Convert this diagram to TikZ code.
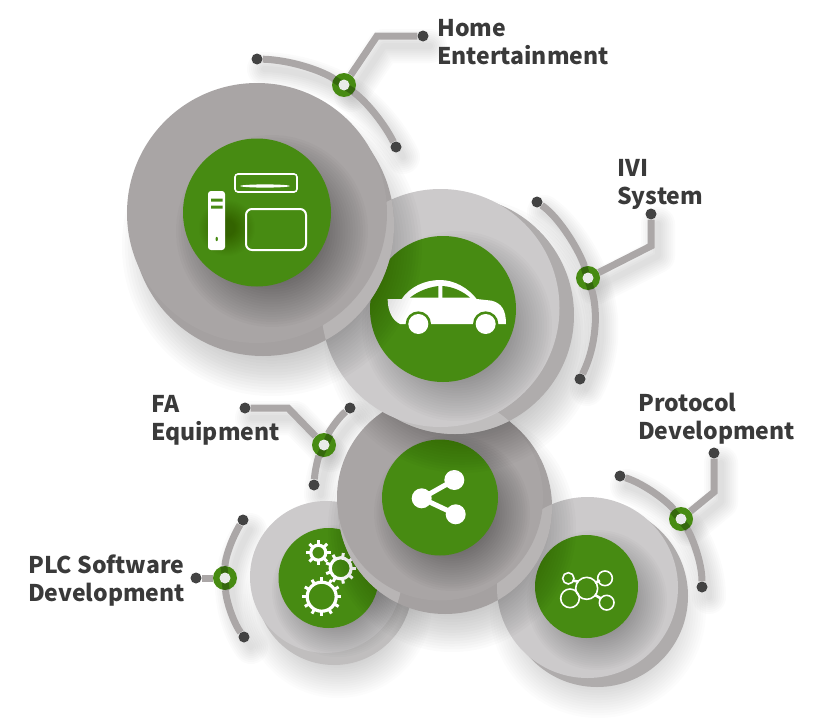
\documentclass[tikz,border=0pt]{standalone}
\usepackage{fontspec}
\setmainfont{Noto Sans}
\newfontfamily\labelfont{Noto Sans CJK SC}

\definecolor{leafgreen}{HTML}{478B12}
\definecolor{stonegray}{HTML}{A9A5A5}
\definecolor{stoneedge}{HTML}{A5A1A1}
\definecolor{stoneband}{HTML}{B8B5B5}
\definecolor{palegray}{HTML}{CCCACB}
\definecolor{paleedge}{HTML}{AFACAC}
\definecolor{paleband}{HTML}{C0BEBE}
\definecolor{armgray}{HTML}{ABA7A7}
\definecolor{dotgray}{HTML}{434343}
\definecolor{holegray}{HTML}{E9EBE9}
\definecolor{labelgray}{HTML}{3A3A3A}

\tikzset{
  greendisc/.style={fill=leafgreen},
  armline/.style={draw=armgray, line width=7pt},
  dotnode/.style={circle, fill=dotgray, inner sep=0pt, minimum size=11pt},
  ringnode/.style={circle, fill=leafgreen, inner sep=0pt, minimum size=24pt},
  holenode/.style={circle, fill=holegray, inner sep=0pt, minimum size=11pt},
  ringband/.style={draw=black, opacity=0.25, line width=7pt},
  iconline/.style={draw=white, line width=1.6pt},
  labelnode/.style={anchor=north west, inner sep=0pt, align=left, text=labelgray,
    font=\labelfont\bfseries\fontsize{23}{28}\selectfont},
}

% blurred stroke under the arms
\newcommand{\softstroke}[1]{%
  \foreach \w in {6,10,...,34}{
    \draw[line width=\w pt, black, opacity=0.014, line cap=round, line join=round, shift={(7,10)}] #1;
  }%
}
% blurred disc: centre x, centre y, radius, spread, step opacity
\newcommand{\softdisc}[5]{%
  \foreach \t in {0,...,19}{
    \fill[black, opacity=#5] (#1,#2) circle ({#3+#4*(\t/9.5-1)});
  }%
}
% gear: centre x, centre y, ring radius, tooth count
\newcommand{\gearicon}[4]{%
  \draw[iconline, line width=3.2pt] (#1,#2) circle (#3);
  \foreach \k in {1,...,#4}{
    \draw[white, line width=3pt] (#1,#2) ++({\k*360/#4}:#3 pt) -- ++({\k*360/#4}:5pt);
  }%
}

\begin{document}
\begin{tikzpicture}[x=1pt, y=-1pt]
        \useasboundingbox (0,0) rectangle (825,720);

        % ==========================================
        % Arm shadows
        % ==========================================
        \softstroke{(257,59) .. controls (290,60) and (320,70) .. (344,85) .. controls (368,103) and (385,125) .. (396,147)}
        \softstroke{(344,85) -- (377,36) -- (423,36)}
        \softstroke{(537,202) .. controls (560,218) and (580,252) .. (588,278) .. controls (598,310) and (597,345) .. (580,379)}
        \softstroke{(588,278) -- (651,246) -- (651,214)}
        \softstroke{(350,408) .. controls (338,418) and (329,432) .. (324,445) .. controls (318,458) and (315,470) .. (314,485)}
        \softstroke{(245,408) -- (288,408) -- (324,445)}
        \softstroke{(243,520) .. controls (232,538) and (225,558) .. (225,578) .. controls (226,600) and (233,622) .. (244,637)}
        \softstroke{(620,476) .. controls (645,484) and (668,502) .. (681,519) .. controls (692,537) and (702,562) .. (702,587)}
        \softstroke{(681,519) -- (714,492) -- (714,453)}

        % ==========================================
        % Protocol disc
        % ==========================================
        \softdisc{598}{610}{84}{24}{0.012}
        \fill[paleedge] (597,596) circle (91);
        \fill[palegray] (587.5,587.5) circle (90.5);
        \softdisc{597}{600}{50}{20}{0.017}
        \fill[greendisc] (586.5,586.5) circle (51.5);
        % Icono red
        \begin{scope}[shift={(530,430)}, scale=1/3]
          \draw[iconline] (170,475) circle (33);
          \draw[iconline] (115,445) circle (17);
          \draw[iconline] (225,445) circle (22);
          \draw[iconline] (120,505) circle (28);
          \draw[iconline] (230,518) circle (22);
          \draw[white, line width=2.6pt] (130,452) -- (145,455);
          \draw[white, line width=2.6pt] (195,458) -- (210,452);
          \draw[white, line width=2.6pt] (195,495) -- (212,505);
        \end{scope}

        % ==========================================
        % Gears disc
        % ==========================================
        \softdisc{338}{604}{72}{22}{0.012}
        \fill[paleband] (334,587) circle (78);
        \fill[palegray] (326,577) circle (76);
        \softdisc{338}{591}{48}{18}{0.017}
        \fill[greendisc] (328.5,578) circle (50);
        % Icono engranajes
        \gearicon{318.3}{552.7}{7.5}{8}
        \gearicon{340.7}{568.3}{10.5}{9}
        \gearicon{321.7}{596.7}{14.5}{12}

        % ==========================================
        % Share disc
        % ==========================================
        \softdisc{452}{528}{98}{26}{0.017}
        \fill[stoneedge] (445,507) circle (107);
        \begin{scope}
          \clip (326,577) circle (76) (587.5,587.5) circle (90.5);
          \fill[stoneband] (445,507) circle (107);
        \end{scope}
        \fill[stonegray] (440,497.5) circle (103);
        \softdisc{452}{513}{56}{22}{0.018}
        \fill[greendisc] (440,497.5) circle (58);
        % Icono compartir
        \draw[white, line width=5pt] (454.3,480) -- (421.7,498.3) -- (455.7,514.3);
        \fill[white] (454.3,480) circle (10) (421.7,498.3) circle (10) (455.7,514.3) circle (10);

        % ==========================================
        % Car disc
        % ==========================================
        \softdisc{462}{335}{112}{26}{0.016}
        \fill[paleedge] (455,315) circle (119);
        \begin{scope}
          \clip (440,497.5) circle (103);
          \fill[paleband] (455,315) circle (119);
        \end{scope}
        \fill[palegray] (440.5,308) circle (119);
        \softdisc{457}{326}{71}{24}{0.017}
        \fill[greendisc] (443,309) circle (73);
        % Icono auto
        \begin{scope}[shift={(360,230)}, scale=1/3]
          \fill[white] (83,207) -- (125,207) .. controls (150,170) and (195,150) .. (240,150)
            .. controls (285,150) and (325,175) .. (350,207) -- (395,212)
            .. controls (425,220) and (438,240) .. (438,282) -- (120,282)
            .. controls (95,270) and (83,240) .. (83,207) -- cycle;
          \fill[leafgreen] (150,203) .. controls (175,183) and (205,172) .. (235,168) -- (235,203) -- cycle;
          \fill[leafgreen] (247,168) .. controls (280,170) and (310,185) .. (330,203) -- (247,203) -- cycle;
          \fill[leafgreen] (175,282) circle (38) (377,282) circle (38);
          \fill[white] (175,282) circle (30) (377,282) circle (30);
        \end{scope}

        % ==========================================
        % Home disc
        % ==========================================
        \softdisc{272}{246}{122}{28}{0.017}
        \fill[stoneedge] (263,225) circle (131);
        \begin{scope}
          \clip (440.5,308) circle (119);
          \fill[stoneband] (263,225) circle (131);
        \end{scope}
        \fill[stonegray] (257,213) circle (130);
        \softdisc{272}{231}{72}{24}{0.018}
        \fill[greendisc] (257,212.5) circle (74);
        % Icono equipos
        \softdisc{227}{228}{18}{10}{0.012}
        \fill[white, rounded corners=3pt] (208,191) rectangle (225,250);
        \fill[leafgreen] (211,198.5) rectangle (222.5,201.5) (211,205.5) rectangle (222.5,208.5);
        \fill[leafgreen] (216.7,239) ellipse (1.2 and 2.2);
        \draw[iconline, rounded corners=3pt] (235,174) rectangle (297,192);
        \fill[white] (265,186) ellipse (25 and 1.6);
        \draw[iconline, line width=2pt, rounded corners=6pt] (246,209) rectangle (306,250);

        % ==========================================
        % Arms
        % ==========================================
        % Home Entertainment
        \node[dotnode] (homeleft) at (257,59) {};
        \node[dotnode] (homeright) at (396,147) {};
        \node[dotnode] (homeend) at (423,36) {};
        \node[ringnode] (homering) at (344,85) {};
        \coordinate (homecorner) at (377,36);
        \draw[armline] (homeleft) .. controls (290,60) and (320,70) .. (homering);
        \draw[armline] (homering) .. controls (368,103) and (385,125) .. (homeright);
        \draw[armline] (homering) -- (homecorner) -- (homeend);
        \draw[ringband] (homering.150) -- (homering.-35);
        \node[holenode] (homehole) at (homering) {};
        \node[labelnode] (homelabel) at (437,19) {Home\\Entertainment};

        % IVI System
        \node[dotnode] (iviup) at (537,202) {};
        \node[dotnode] (ividown) at (580,379) {};
        \node[dotnode] (iviend) at (651,214) {};
        \node[ringnode] (ivirring) at (588,278) {};
        \coordinate (ivicorner) at (651,246);
        \draw[armline] (iviup) .. controls (560,218) and (580,252) .. (ivirring);
        \draw[armline] (ivirring) .. controls (598,310) and (597,345) .. (ividown);
        \draw[armline] (ivirring) -- (ivicorner) -- (iviend);
        \draw[ringband] (ivirring.110) -- (ivirring.-75);
        \node[holenode] (ivihole) at (ivirring) {};
        \node[labelnode] (ivilabel) at (617,159) {IVI\\System};

        % FA Equipment
        \node[dotnode] (faup) at (350,408) {};
        \node[dotnode] (fadown) at (314,485) {};
        \node[dotnode] (faend) at (245,408) {};
        \node[ringnode] (faring) at (324,445) {};
        \coordinate (facorner) at (288,408);
        \draw[armline] (faup) .. controls (338,418) and (329,432) .. (faring);
        \draw[armline] (faring) .. controls (318,458) and (315,470) .. (fadown);
        \draw[armline] (faring) -- (facorner) -- (faend);
        \draw[ringband] (faring.60) -- (faring.-110);
        \node[holenode] (fahole) at (faring) {};
        \node[labelnode] (falabel) at (151,395) {FA\\Equipment};

        % PLC Software Development
        \node[dotnode] (plcup) at (243,520) {};
        \node[dotnode] (plcdown) at (244,637) {};
        \node[dotnode] (plcend) at (196,578) {};
        \node[ringnode] (plcring) at (225,578) {};
        \draw[armline] (plcup) .. controls (232,538) and (225,558) .. (plcring);
        \draw[armline] (plcring) .. controls (226,600) and (233,622) .. (plcdown);
        \draw[armline] (plcring) -- (plcend);
        \draw[ringband] (plcring.95) -- (plcring.-85);
        \node[holenode] (plchole) at (plcring) {};
        \node[labelnode] (plclabel) at (28,555) {PLC Software\\Development};

        % Protocol Development
        \node[dotnode] (protoup) at (620,476) {};
        \node[dotnode] (protodown) at (702,587) {};
        \node[dotnode] (protoend) at (714,453) {};
        \node[ringnode] (protoring) at (681,519) {};
        \coordinate (protocorner) at (714,492);
        \draw[armline] (protoup) .. controls (645,484) and (668,502) .. (protoring);
        \draw[armline] (protoring) .. controls (692,537) and (702,562) .. (protodown);
        \draw[armline] (protoring) -- (protocorner) -- (protoend);
        \draw[ringband] (protoring.135) -- (protoring.-55);
        \node[holenode] (protohole) at (protoring) {};
        \node[labelnode] (protolabel) at (638,393) {Protocol\\Development};

    \end{tikzpicture}
\end{document}
